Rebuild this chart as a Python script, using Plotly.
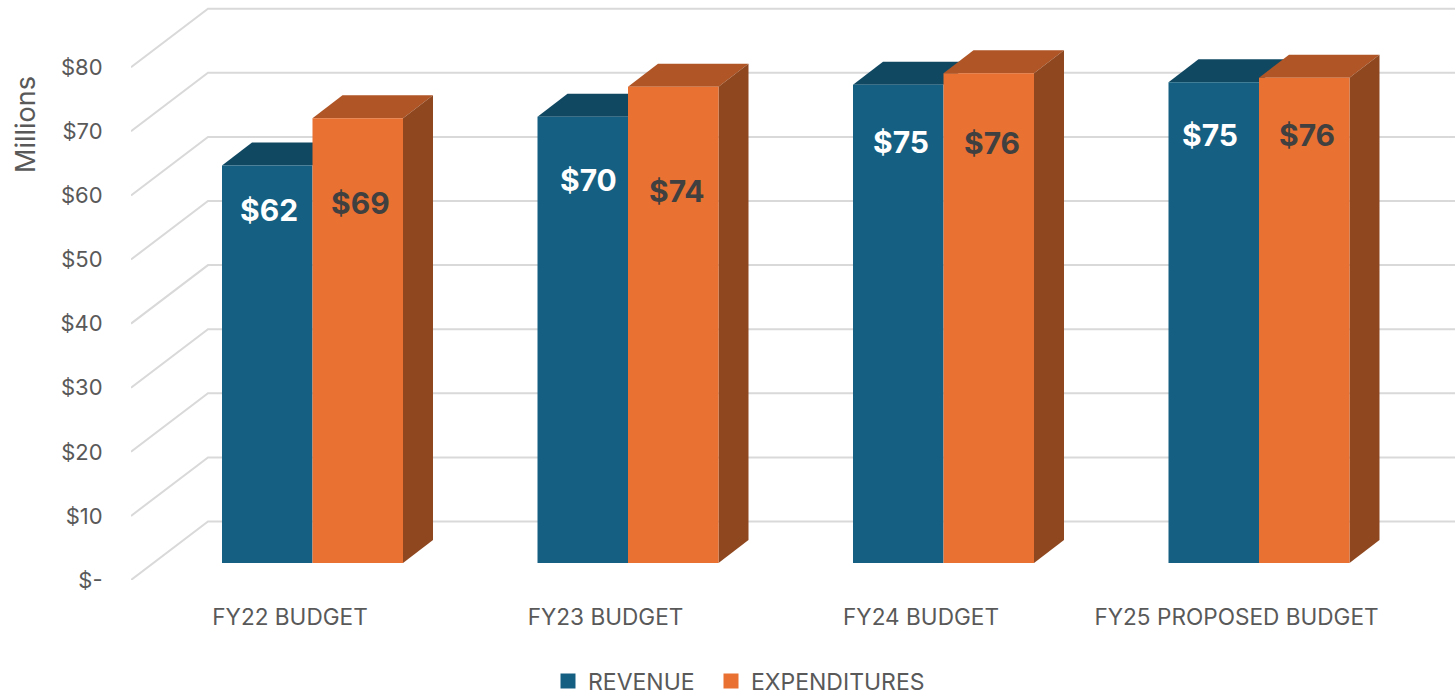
import plotly.graph_objects as go

categories = ["FY22 BUDGET", "FY23 BUDGET", "FY24 BUDGET", "FY25 PROPOSED BUDGET"]
revenue = [62.0, 69.6, 74.6, 75.0]
expenditures = [69.4, 74.3, 76.4, 75.7]
y_ticks = [0, 10, 20, 30, 40, 50, 60, 70, 80]
y_tick_labels = ["$-", "$10", "$20", "$30", "$40", "$50", "$60", "$70", "$80"]
series_names = ["REVENUE", "EXPENDITURES"]

# Layout / projection constants (pixels converted to axis units)
W, H = 1455, 696
L, B = 131, 116
PX_PER_CAT = 315.5
PX_PER_UNIT = 6.41
FONT = "Inter"
GRAY = "#595959"
BLUE, BLUE_TOP = "#156082", "#104862"
ORANGE, ORANGE_TOP, ORANGE_SIDE = "#E97132", "#AF5526", "#8F471F"
GRID = "#D9D9D9"

cat_x0 = (L - 290) / PX_PER_CAT
cat_x1 = (W - 290) / PX_PER_CAT
y1 = (H - B) / PX_PER_UNIT

BAR_W = 90.5 / PX_PER_CAT
GROUP_SHIFT = 22.5 / PX_PER_CAT
FLOOR = 17 / PX_PER_UNIT          # front of bars sits above the front floor edge
DEPTH_X, DEPTH_Y = 30 / PX_PER_CAT, 23 / PX_PER_UNIT
WALL_X, WALL_Y = 77 / PX_PER_CAT, 58.5 / PX_PER_UNIT

# offset of each value label from its bar top-centre, in pixels
rev_drop = [44, 63, 57, 53]
exp_drop = [85, 104, 70, 57]
rev_nudge = [2, 6, 3, -4]
exp_nudge = [3, 4, 3, 3]
legend_widths = [118, 190]

shapes = []


def poly(points, color):
    path = "M" + "L".join(f"{x:.5f},{y:.4f}" for x, y in points) + "Z"
    shapes.append(dict(type="path", path=path, fillcolor=color, line=dict(width=0),
                       xref="x", yref="y", layer="below"))


# back-wall grid with slanted floor/side lines
for t in y_ticks:
    path = (f"M{cat_x0:.5f},{t} L{cat_x0 + WALL_X:.5f},{t + WALL_Y:.4f} "
            f"L{cat_x1:.5f},{t + WALL_Y:.4f}")
    shapes.append(dict(type="path", path=path, line=dict(color=GRID, width=2),
                       xref="x", yref="y", layer="below"))

centres = [i + GROUP_SHIFT for i in range(len(categories))]

# top and side faces of the 3D columns (below the column fronts)
for c, rv, ex in zip(centres, revenue, expenditures):
    rt = rv + FLOOR
    et = ex + FLOOR
    poly([(c - BAR_W, rt), (c, rt), (c + DEPTH_X, rt + DEPTH_Y),
          (c - BAR_W + DEPTH_X, rt + DEPTH_Y)], BLUE_TOP)
    poly([(c, et), (c + BAR_W, et), (c + BAR_W + DEPTH_X, et + DEPTH_Y),
          (c + DEPTH_X, et + DEPTH_Y)], ORANGE_TOP)
    poly([(c + BAR_W, FLOOR), (c + BAR_W + DEPTH_X, FLOOR + DEPTH_Y),
          (c + BAR_W + DEPTH_X, et + DEPTH_Y), (c + BAR_W, et)], ORANGE_SIDE)

fig = go.Figure()
for name, vals, color, sign, lw in [(series_names[0], revenue, BLUE, -1, legend_widths[0]),
                                    (series_names[1], expenditures, ORANGE, 0, legend_widths[1])]:
    fig.add_trace(go.Bar(
        name=name, x=centres, y=vals, base=FLOOR,
        width=BAR_W, offset=sign * BAR_W,
        marker=dict(color=color, line=dict(width=0)),
        hoverinfo="name+y", showlegend=False,
    ))
    # legend swatch carrier with a slightly larger square, matching the reference key
    fig.add_trace(go.Bar(
        name=name, x=[None], y=[None],
        marker=dict(color=color, line=dict(color=color, width=3)),
        showlegend=True, hoverinfo="skip", legendwidth=lw,
    ))

annotations = []
for c, rv, ex, rd, ed, rn, en in zip(centres, revenue, expenditures, rev_drop, exp_drop, rev_nudge, exp_nudge):
    annotations.append(dict(x=c - BAR_W / 2, y=rv + FLOOR, yshift=-rd, xshift=rn, text=f"<b>${round(rv)}</b>",
                            showarrow=False, xanchor="center", yanchor="middle",
                            font=dict(family=FONT, size=30, color="#FFFFFF")))
    annotations.append(dict(x=c + BAR_W / 2, y=ex + FLOOR, yshift=-ed, xshift=en, text=f"<b>${round(ex)}</b>",
                            showarrow=False, xanchor="center", yanchor="middle",
                            font=dict(family=FONT, size=30, color="#404040")))
annotations.append(dict(xref="paper", yref="paper", x=(25 - L) / (W - L), y=(H - 125) / H,
                        text="Millions", textangle=-90, showarrow=False,
                        xanchor="center", yanchor="middle",
                        font=dict(family=FONT, size=27, color=GRAY)))

fig.update_layout(
    width=W, height=H,
    margin=dict(l=L, r=0, t=0, b=0, pad=0, autoexpand=False),
    paper_bgcolor="white", plot_bgcolor="white",
    barmode="overlay",
    font=dict(family=FONT, color=GRAY, size=23),
    shapes=shapes, annotations=annotations,
    xaxis=dict(range=[cat_x0, cat_x1], tickmode="array", tickvals=list(range(len(categories))),
               ticktext=categories, showgrid=False, zeroline=False, showline=False,
               ticks="outside", ticklen=17, tickcolor="rgba(0,0,0,0)",
               tickfont=dict(family=FONT, size=22.6, color=GRAY)),
    yaxis=dict(range=[0, y1], domain=[B / H, 1], tickmode="array", tickvals=y_ticks, ticktext=y_tick_labels,
               showgrid=False, zeroline=False, showline=False,
               ticks="outside", ticklen=23, tickcolor="rgba(0,0,0,0)",
               tickfont=dict(family=FONT, size=22, color=GRAY)),
    legend=dict(orientation="h", xref="paper", yref="paper", x=(548 - L) / (W - L),
                y=(H - 681) / H, xanchor="left", yanchor="middle",
                font=dict(family=FONT, size=23, color=GRAY), traceorder="normal",
                bgcolor="rgba(0,0,0,0)"),
    showlegend=True,
)

fig.write_html("out.html", config={"displayModeBar": False},
               post_script="document.body.style.margin='0';document.documentElement.style.overflow='hidden';")
